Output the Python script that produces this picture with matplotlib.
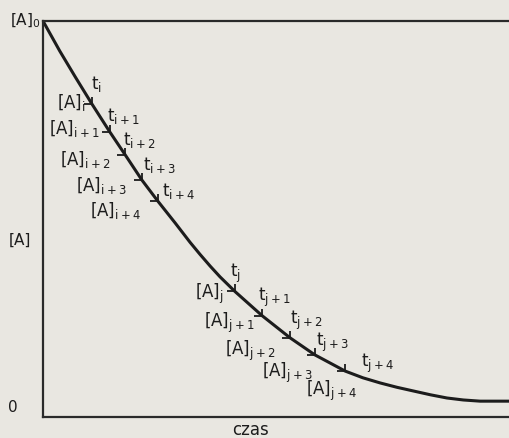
import matplotlib
matplotlib.use("Agg")
import matplotlib.pyplot as plt
from matplotlib.path import Path

# curve (time in arbitrary units, [A] relative to [A]0)
czas = [0, 0.36, 0.69, 1.05, 1.43, 1.76, 2.12, 2.46, 2.83, 3.15, 3.36, 3.58,
        3.79, 4.11, 4.69, 5.29, 5.82, 6.47, 6.85, 7.22, 7.58, 7.92, 8.30,
        8.65, 9.00, 9.36, 10.0]
stez = [1.0, 0.924, 0.859, 0.790, 0.720, 0.662, 0.598, 0.545, 0.490, 0.441,
        0.411, 0.381, 0.354, 0.317, 0.256, 0.200, 0.157, 0.116, 0.099, 0.086,
        0.075, 0.066, 0.056, 0.048, 0.043, 0.040, 0.040]

# marked time points t_i..t_i+4 and t_j..t_j+4
t_pts = [1.05, 1.43, 1.76, 2.12, 2.46, 4.11, 4.69, 5.29, 5.82, 6.47]
a_pts = [0.790, 0.720, 0.662, 0.598, 0.545, 0.317, 0.256, 0.200, 0.157, 0.116]
subs = ["i", "i+1", "i+2", "i+3", "i+4", "j", "j+1", "j+2", "j+3", "j+4"]

# label offsets in pixels relative to each mark
t_off = [(-1, 20), (-3, 16), (-2, 15), (1, 15), (4, 10),
         (-5, 18), (-4, 18), (0, 17), (1, 12), (16, 8)]
a_off = [(-35, 2), (-61, 3), (-65, -5), (-66, -5), (-68, -9),
         (-40, -2), (-58, -7), (-65, -13), (-53, -18), (-39, -20)]

bg = "#e9e7e1"
ink = "#1c1c1c"

fig = plt.figure(figsize=(5.1, 4.38), dpi=100, facecolor=bg)
ax = fig.add_axes([43 / 510, 21 / 438, 467 / 510, 396 / 438], facecolor=bg)

ax.plot(czas, stez, color=ink, lw=2.2, solid_capstyle="round",
        solid_joinstyle="round")

# little corner marks on the curve
corner = Path([(-1, 0), (0, 0), (0, 0.8)], [Path.MOVETO, Path.LINETO, Path.LINETO])
ax.plot(t_pts, a_pts, ls="none", marker=corner, ms=12, mew=1.3,
        mec=ink, mfc="none")

fs = 12
for x, y, s, to, ao in zip(t_pts, a_pts, subs, t_off, a_off):
    ax.annotate(r"$\mathregular{t_{%s}}$" % s, (x, y), xytext=to,
                textcoords="offset pixels", ha="left", va="center",
                fontsize=fs, color=ink)
    ax.annotate(r"$\mathregular{[A]_{%s}}$" % s, (x, y), xytext=ao,
                textcoords="offset pixels", ha="left", va="center",
                fontsize=fs, color=ink)

ax.set_xlim(0, 10)
ax.set_ylim(0, 1.0)
ax.set_xticks([])
ax.set_yticks([])
for side in ["left", "bottom", "top"]:
    ax.spines[side].set_color("#2a2a2a")
    ax.spines[side].set_linewidth(1.6)
ax.spines["right"].set_visible(False)

ax.text(-0.005, 1.0, r"$\mathregular{[A]_0}$", transform=ax.transAxes,
        ha="right", va="center", fontsize=fs - 1, color=ink)
ax.text(-0.064, 0.025, "0", transform=ax.transAxes,
        ha="center", va="center", fontsize=fs - 1, color=ink)
ax.text(-0.049, 0.446, "[A]", transform=ax.transAxes,
        ha="center", va="center", fontsize=fs - 1, color=ink)
ax.text(0.444, -0.033, "czas", transform=ax.transAxes,
        ha="center", va="center", fontsize=fs, color=ink)

fig.savefig("out.png", dpi=100, facecolor=bg)
